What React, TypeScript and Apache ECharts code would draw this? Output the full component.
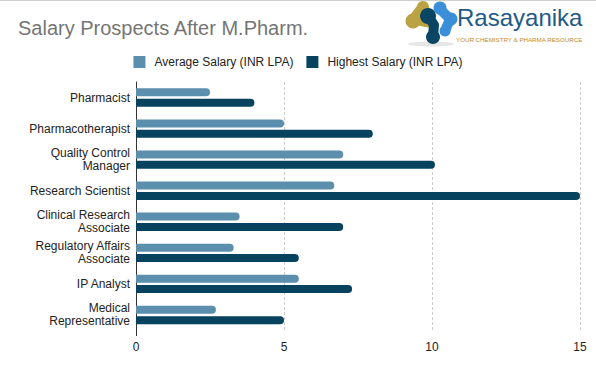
import React, { useEffect, useRef } from "react";
import * as echarts from "echarts";

const categories = [
  "Pharmacist",
  "Pharmacotherapist",
  "Quality Control\nManager",
  "Research Scientist",
  "Clinical Research\nAssociate",
  "Regulatory Affairs\nAssociate",
  "IP Analyst",
  "Medical\nRepresentative",
];
const averageSalary = [2.5, 5, 7, 6.7, 3.5, 3.3, 5.5, 2.7];
const highestSalary = [4, 8, 10.1, 15, 7, 5.5, 7.3, 5];
const xTicks = { min: 0, max: 15, interval: 5 };
const seriesNames = ["Average Salary (INR LPA)", "Highest Salary (INR LPA)"];
const titleText = "Salary Prospects After M.Pharm.";

const FONT = "'Liberation Sans', Arial, sans-serif";

export default function App() {
  const ref = useRef<HTMLDivElement>(null);
  useEffect(() => {
    if (!ref.current) return;
    const chart = echarts.init(ref.current, undefined, { renderer: "svg" });
    const yellow = "#bba343";
    const navy = "#0a4563";
    const blue = "#3b8fd9";
    chart.setOption({
      animation: false,
      backgroundColor: "#ffffff",
      textStyle: { fontFamily: FONT },
      title: {
        text: titleText,
        left: 13,
        top: 13,
        textStyle: { fontFamily: FONT, fontSize: 20, fontWeight: "normal", color: "#757575" },
      },
      legend: {
        top: 51,
        left: "center",
        itemWidth: 12,
        itemHeight: 12,
        itemGap: 13,
        icon: "rect",
        textStyle: { fontFamily: FONT, fontSize: 12, color: "#222", padding: [0, 0, 0, 4] },
        data: seriesNames,
      },
      grid: { left: 136, right: 16, top: 82, bottom: 38.5 },
      xAxis: {
        type: "value",
        min: xTicks.min,
        max: xTicks.max,
        interval: xTicks.interval,
        axisLine: { show: false },
        axisTick: { show: false },
        axisLabel: { color: "#222", fontSize: 12, fontFamily: FONT, margin: 10 },
        splitLine: { show: true, lineStyle: { color: "#cccccc", type: [3, 2], width: 1 } },
      },
      yAxis: {
        type: "category",
        inverse: true,
        data: categories,
        axisLine: { show: true, lineStyle: { color: "#333", width: 1 } },
        axisTick: { show: false },
        axisLabel: { color: "#222", fontSize: 12, fontFamily: FONT, margin: 6, lineHeight: 13 },
      },
      series: [
        {
          name: seriesNames[0],
          type: "bar",
          data: averageSalary,
          barWidth: 8,
          barGap: "30%",
          itemStyle: { color: "#5b8fad", borderRadius: [0, 4, 4, 0] },
        },
        {
          name: seriesNames[1],
          type: "bar",
          data: highestSalary,
          barWidth: 8,
          itemStyle: { color: "#07425f", borderRadius: [0, 4, 4, 0] },
        },
      ],
      graphic: [
        { type: "line", shape: { x1: 0, y1: 0.5, x2: 596, y2: 0.5 }, style: { stroke: "#cfcfcf", lineWidth: 1 } },
        { type: "line", shape: { x1: 136.5, y1: 328, x2: 136.5, y2: 336 }, style: { stroke: "#333", lineWidth: 1 } },
        { type: "ellipse", shape: { cx: 431, cy: 44, rx: 23, ry: 2.5 }, style: { fill: "#e6e6e6" } },
        // yellow blob
        { type: "polyline", shape: { points: [[423, 7], [414, 19], [429, 22]] }, style: { stroke: yellow, lineWidth: 11, lineCap: "round", lineJoin: "round", fill: null } },
        { type: "circle", shape: { cx: 413, cy: 21, r: 7.5 }, style: { fill: yellow } },
        { type: "circle", shape: { cx: 423, cy: 7, r: 6 }, style: { fill: yellow } },
        // blue blob
        { type: "polyline", shape: { points: [[440, 9], [450, 19], [445, 31]] }, style: { stroke: blue, lineWidth: 10, lineCap: "round", lineJoin: "round", fill: null } },
        { type: "circle", shape: { cx: 440, cy: 8, r: 6.5 }, style: { fill: blue } },
        { type: "circle", shape: { cx: 451, cy: 19, r: 6.5 }, style: { fill: blue } },
        { type: "circle", shape: { cx: 445, cy: 31, r: 5.5 }, style: { fill: blue } },
        // navy blob
        { type: "polyline", shape: { points: [[428, 16], [434, 25], [433, 36]] }, style: { stroke: navy, lineWidth: 10, lineCap: "round", lineJoin: "round", fill: null } },
        { type: "circle", shape: { cx: 428, cy: 16, r: 8 }, style: { fill: navy } },
        { type: "circle", shape: { cx: 433, cy: 37, r: 7 }, style: { fill: navy } },
        {
          type: "text",
          x: 457,
          y: 5,
          style: { text: "Rasayanika", fill: "#1f5a86", font: "24px 'Liberation Sans', Arial, sans-serif" },
        },
        {
          type: "text",
          x: 456,
          y: 36,
          style: { text: "YOUR CHEMISTRY & PHARMA RESOURCE", fill: "#c08a2e", font: "6.2px 'Liberation Sans', Arial, sans-serif" },
        },
      ],
    });
    return () => chart.dispose();
  }, []);
  return (
    <div
      ref={ref}
      style={{ position: "fixed", left: 0, top: 0, width: 596, height: 369 }}
    />
  );
}
